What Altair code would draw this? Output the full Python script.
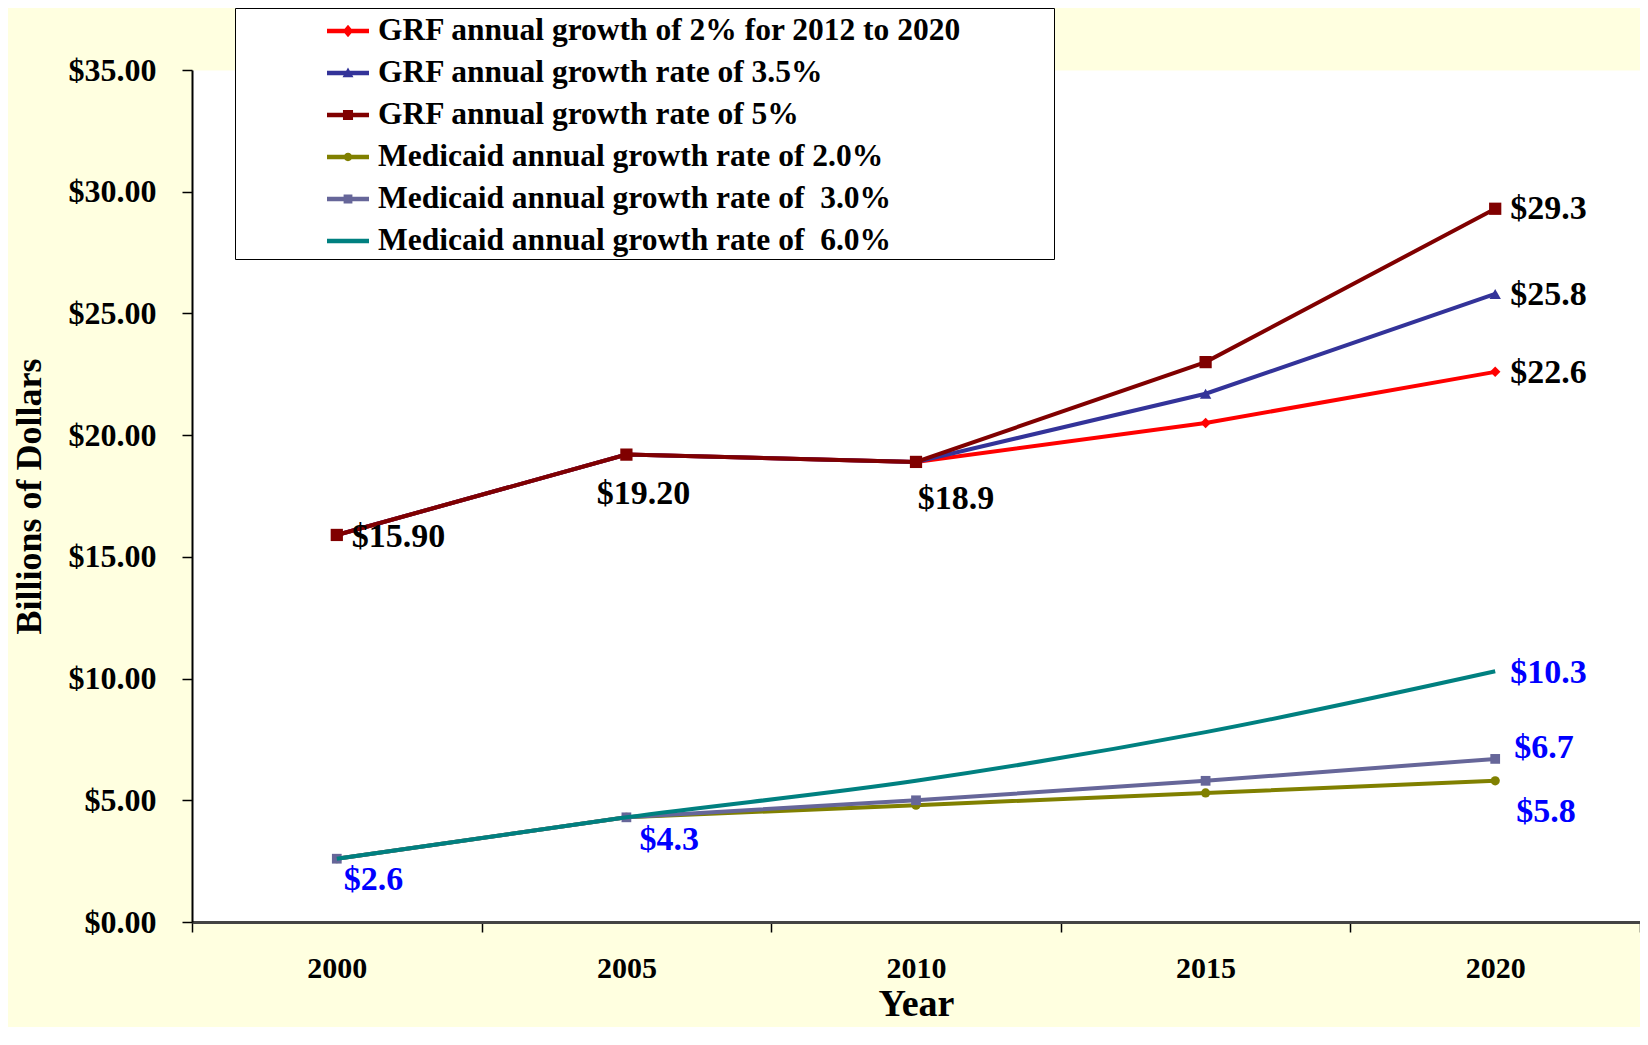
import altair as alt
import pandas as pd

# ---------------- data ----------------
years = [2000, 2005, 2010, 2015, 2020]
series_names = [
    "\u00a0GRF annual growth of 2% for 2012 to 2020",
    "GRF annual growth rate of 3.5%",
    "GRF annual growth rate of 5%",
    "Medicaid annual growth rate of 2.0%",
    "Medicaid annual growth rate of\u00a0 3.0%",
    "Medicaid annual growth rate of\u00a0 6.0%",
]
grf_2 = [15.9, 19.2, 18.9, 20.5, 22.6]
grf_35 = [15.9, 19.2, 18.9, 21.7, 25.8]
grf_5 = [15.9, 19.2, 18.9, 23.0, 29.3]
med_2 = [2.6, 4.3, 4.8, 5.3, 5.8]
med_3 = [2.6, 4.3, 5.0, 5.8, 6.7]
med_6 = [2.6, 4.3, 5.8, 7.8, 10.3]
series_values = [grf_2, grf_35, grf_5, med_2, med_3, med_6]

label_series = [2, 2, 2, 2, 1, 0, 5, 4, 3, 3, 3]
label_years = [2000, 2005, 2010, 2020, 2020, 2020, 2020, 2020, 2020, 2000, 2005]
label_texts = ["$15.90", "$19.20", "$18.9", "$29.3", "$25.8", "$22.6",
               "$10.3", "$6.7", "$5.8", "$2.6", "$4.3"]

y_ticks = [0, 5, 10, 15, 20, 25, 30, 35]
x_labels = [2000, 2005, 2010, 2015, 2020]
x_bounds = [1997.5, 2002.5, 2007.5, 2012.5, 2017.5, 2022.5]

rows = []
for name, vals in zip(series_names, series_values):
    for yr, v in zip(years, vals):
        rows.append({"series": name, "year": yr, "value": v})
df = pd.DataFrame(rows)

lab_rows = []
for k, (si, yr, t) in enumerate(zip(label_series, label_years, label_texts)):
    lab_rows.append({"idx": k, "year": yr,
                     "value": series_values[si][years.index(yr)], "label": t})
ldf = pd.DataFrame(lab_rows)

# ---------------- styles ----------------
FONT = "Liberation Serif"
colors = ["#FF0000", "#333399", "#800000", "#808000", "#666699", "#008080"]
marker_shapes = ["diamond", "triangle-up", "square", "circle", "square", None]
marker_sizes = [110, 130, 150, 85, 95, 0]
interps = ["linear", "linear", "linear", "linear", "linear", "monotone"]

bar = "M-1,-0.11L1,-0.11L1,0.11L-1,0.11Z"
legend_paths = [
    bar + "M0,-0.3L0.25,0L0,0.3L-0.25,0Z",
    bar + "M0,-0.26L0.26,0.2L-0.26,0.2Z",
    bar + "M-0.24,-0.24L0.24,-0.24L0.24,0.24L-0.24,0.24Z",
    bar + "M-0.2,0A0.2,0.2,0,1,1,0.2,0A0.2,0.2,0,1,1,-0.2,0Z",
    bar + "M-0.21,-0.21L0.21,-0.21L0.21,0.21L-0.21,0.21Z",
    bar,
]

# dx, dy, align, color for each label
label_styles = [
    (15, 2, "left", "black"),
    (17, 39, "center", "black"),
    (40, 37, "center", "black"),
    (15, 0, "left", "black"),
    (15, 1, "left", "black"),
    (15, 1, "left", "black"),
    (15, 2, "left", "#0000FF"),
    (19, -11, "left", "#0000FF"),
    (21, 31, "left", "#0000FF"),
    (7, 21, "left", "#0000FF"),
    (13, 23, "left", "#0000FF"),
]

xscale = alt.Scale(domain=[1997.5, 2022.5], nice=False, zero=False)
yscale = alt.Scale(domain=[0, 35], nice=False, zero=True)

tick_axis = alt.Axis(orient="bottom", values=x_bounds, labels=False, ticks=True,
                     tickSize=10, tickColor="black", tickWidth=1.5, domain=True,
                     domainColor="#444444", domainWidth=3, grid=False, title=None)
label_axis = alt.Axis(orient="bottom", values=x_labels, format="d", ticks=False,
                      domain=False, grid=False, labelFont=FONT,
                      labelFontWeight="bold", labelFontSize=30,
                      labelColor="black", labelPadding=31,
                      title="Year", titleFont=FONT, titleFontWeight="bold",
                      titleFontSize=38, titleColor="black", titleY=63)
y_axis = alt.Axis(orient="left", values=y_ticks, format="$.2f", tickSize=10,
                  tickColor="black", tickWidth=1.5, domain=True,
                  domainColor="black", domainWidth=2, grid=False,
                  labelFont=FONT, labelFontWeight="bold", labelFontSize=32,
                  labelColor="black", labelPadding=26,
                  title="Billions of Dollars", titleFont=FONT,
                  titleFontWeight="bold", titleFontSize=36, titleColor="black",
                  titlePadding=20)


def xenc(axis=None):
    return alt.X("year:Q", scale=xscale, axis=axis)


def yenc():
    return alt.Y("value:Q", scale=yscale, axis=y_axis)


layers = []
for i, name in enumerate(series_names):
    base = alt.Chart(df).transform_filter(alt.datum.series == name)
    xa = tick_axis if i == 0 else (label_axis if i == 1 else None)
    line = base.mark_line(color=colors[i], strokeWidth=4,
                          interpolate=interps[i]).encode(
        x=xenc(xa), y=yenc(), order="year:Q")
    layers.append(line)
    if marker_shapes[i]:
        pts = base.mark_point(shape=marker_shapes[i], filled=True, opacity=1,
                              size=marker_sizes[i], color=colors[i]).encode(
            x=xenc(), y=yenc())
        layers.append(pts)

for k, (dx, dy, al, col) in enumerate(label_styles):
    t = alt.Chart(ldf).transform_filter(alt.datum.idx == k).mark_text(
        dx=dx, dy=dy, align=al, baseline="middle", font=FONT,
        fontWeight="bold", fontSize=34, color=col).encode(
        x=xenc(), y=yenc(), text="label:N")
    layers.append(t)

leg = alt.Legend(orient="none", legendX=43, legendY=-62, title="\u00a0",
                 titleOrient="right", titleFontSize=1, titlePadding=90,
                 padding=2, strokeColor="black", fillColor="white",
                 symbolOffset=90, labelOffset=9, symbolSize=1764,
                 symbolStrokeWidth=0, labelFont=FONT, labelFontWeight="bold",
                 labelFontSize=31.5, labelColor="black", labelLimit=1000,
                 rowPadding=5)
legend_layer = alt.Chart(df).transform_filter("false").mark_point(
    filled=True, opacity=1, size=1764).encode(
    x=xenc(), y=yenc(),
    color=alt.Color("series:N", scale=alt.Scale(domain=series_names, range=colors),
                    legend=leg),
    shape=alt.Shape("series:N",
                    scale=alt.Scale(domain=series_names, range=legend_paths),
                    legend=leg),
)
layers.append(legend_layer)

chart = alt.layer(*layers).resolve_axis(x="independent", y="shared").properties(
    width=1448, height=852,
    autosize=alt.AutoSizeParams(type="none"),
    padding={"left": 184, "top": 62, "right": 0, "bottom": 105},
    background="#FFFFE0",
).configure_view(fill="white", stroke="transparent")

chart.save("out.html", embed_options={"renderer": "svg", "actions": False})
